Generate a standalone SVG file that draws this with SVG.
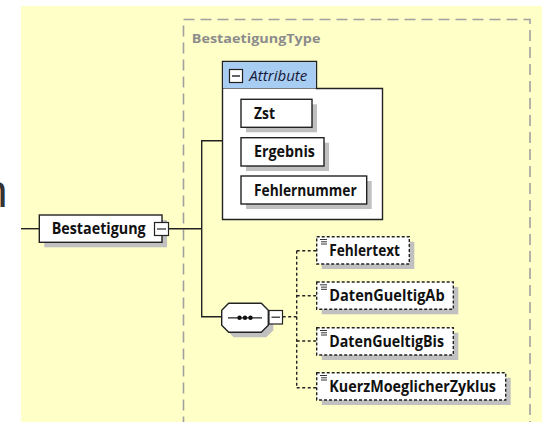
<svg xmlns="http://www.w3.org/2000/svg" width="542" height="422" viewBox="0 0 542 422">
  <style>
    .lbl { font-family: "Open Sans", "Liberation Sans", Arial, sans-serif; font-weight: bold; font-size: 15.5px; fill: #111; }
    .box { fill: #fff; stroke: #222; stroke-width: 1.4; }
    .dbox { fill: #fff; stroke: #222; stroke-width: 1.4; stroke-dasharray: 3,2; }
    .shadow { fill: #c0c0c0; }
    .line { fill: none; stroke: #222; stroke-width: 1.4; }
    .dline { fill: none; stroke: #222; stroke-width: 1.4; stroke-dasharray: 3,2.5; }
    .mbox { fill: #fff; stroke: #222; stroke-width: 1.2; }
    .icon { stroke: #333; stroke-width: 1; }
  </style>
  <rect x="0" y="0" width="542" height="422" fill="#ffffff"/>
  <rect x="21" y="6" width="521" height="416" fill="#ffffc8"/>
  <text x="-18" y="206.7" font-family="Liberation Sans, Arial, sans-serif" font-size="46" fill="#333">n</text>

  <g id="BestaetigungType">
    <rect x="183.5" y="19.5" width="346.5" height="410" fill="none" stroke="#a0a0a0" stroke-width="1.6" stroke-dasharray="11,6"/>
    <text x="191.8" y="43.2" font-family="Open Sans, Liberation Sans, Arial, sans-serif" font-weight="bold" font-size="13" fill="#8c8c8c" textLength="128.6" lengthAdjust="spacingAndGlyphs">BestaetigungType</text>
  </g>

  <g id="connectors">
    <line class="line" x1="21" y1="228.7" x2="39.3" y2="228.7"/>
    <line class="line" x1="169" y1="228.7" x2="201.7" y2="228.7"/>
    <polyline class="line" points="222.3,140.7 201.7,140.7 201.7,316.7 221.7,316.7"/>
    <line class="dline" x1="282.7" y1="316.7" x2="296.7" y2="316.7"/>
    <line class="dline" x1="296.7" y1="250.7" x2="296.7" y2="387.7"/>
    <line class="dline" x1="296.7" y1="250.7" x2="316.7" y2="250.7"/>
    <line class="dline" x1="296.7" y1="295.7" x2="316.7" y2="295.7"/>
    <line class="dline" x1="296.7" y1="341" x2="316.7" y2="341"/>
    <line class="dline" x1="296.7" y1="387.7" x2="316.7" y2="387.7"/>
  </g>

  <g id="Attribute">
    <path d="M222.5,61.5 H316.5 V88.5 H382.5 V219.5 H222.5 Z" fill="#fff" stroke="#222" stroke-width="1.4"/>
    <rect x="223.2" y="62.2" width="92.6" height="25.8" fill="#a8cdf2"/>
    <line x1="222.5" y1="88.5" x2="316.5" y2="88.5" stroke="#222" stroke-width="0.6"/>
    <rect class="mbox" x="229.5" y="69.5" width="13" height="13" fill="#fff"/>
    <line x1="232" y1="76" x2="240" y2="76" stroke="#222" stroke-width="1.4"/>
    <text x="249.3" y="80.7" font-family="Open Sans, Liberation Sans, Arial, sans-serif" font-style="italic" font-size="14.5" fill="#1a1a3a" textLength="58" lengthAdjust="spacingAndGlyphs">Attribute</text>
  </g>

  <g id="Zst">
    <rect class="shadow" x="246" y="104.3" width="71" height="28"/>
    <rect class="box" x="241" y="99.3" width="71" height="28"/>
    <text class="lbl" x="254" y="119" textLength="21" lengthAdjust="spacingAndGlyphs">Zst</text>
  </g>
  <g id="Ergebnis">
    <rect class="shadow" x="246" y="142.7" width="83" height="28.3"/>
    <rect class="box" x="241" y="137.7" width="83" height="28.3"/>
    <text class="lbl" x="254" y="157.3" textLength="61" lengthAdjust="spacingAndGlyphs">Ergebnis</text>
  </g>
  <g id="Fehlernummer">
    <rect class="shadow" x="246" y="181" width="125.7" height="28"/>
    <rect class="box" x="241" y="176" width="125.7" height="28"/>
    <text class="lbl" x="254" y="196" textLength="102.7" lengthAdjust="spacingAndGlyphs">Fehlernummer</text>
  </g>

  <g id="Bestaetigung">
    <rect class="shadow" x="44.3" y="220" width="122.7" height="27.3"/>
    <rect class="box" x="39.3" y="215" width="122.7" height="27.3"/>
    <text class="lbl" x="51.7" y="234.3" textLength="94" lengthAdjust="spacingAndGlyphs">Bestaetigung</text>
    <rect class="mbox" x="154.5" y="222.5" width="14" height="13"/>
    <line x1="157" y1="229" x2="166" y2="229" stroke="#222" stroke-width="1.2"/>
  </g>

  <g id="sequence">
    <path d="M233.7,308.3 H266.3 L273.3,315.3 V330.3 L266.3,337.3 H233.7 L226.7,330.3 V315.3 Z" class="shadow"/>
    <path d="M228.7,303.3 H261.3 L268.3,310.3 V325.3 L261.3,332.3 H228.7 L221.7,325.3 V310.3 Z" fill="#fff" stroke="#222" stroke-width="1.4"/>
    <line x1="228" y1="317.8" x2="262" y2="317.8" stroke="#222" stroke-width="1.2"/>
    <circle cx="239.5" cy="317.8" r="2.2" fill="#111"/>
    <circle cx="245" cy="317.8" r="2.2" fill="#111"/>
    <circle cx="250.5" cy="317.8" r="2.2" fill="#111"/>
    <rect class="mbox" x="269" y="310.5" width="13.5" height="13.5"/>
    <line x1="271.5" y1="317.2" x2="280" y2="317.2" stroke="#222" stroke-width="1.2"/>
  </g>

  <g id="Fehlertext">
    <rect class="shadow" x="321.7" y="241.7" width="92.6" height="27.3"/>
    <rect class="dbox" x="316.7" y="236.7" width="92.6" height="27.3"/>
    <path class="icon" d="M320,239.5 H327 M321,241.8 H327 M321,244 H327"/>
    <text class="lbl" x="329.3" y="256" textLength="70.7" lengthAdjust="spacingAndGlyphs">Fehlertext</text>
  </g>
  <g id="DatenGueltigAb">
    <rect class="shadow" x="321.7" y="287" width="136.6" height="27.3"/>
    <rect class="dbox" x="316.7" y="282" width="136.6" height="27.3"/>
    <path class="icon" d="M320,284.8 H327 M321,287.1 H327 M321,289.3 H327"/>
    <text class="lbl" x="329.3" y="301" textLength="115.3" lengthAdjust="spacingAndGlyphs">DatenGueltigAb</text>
  </g>
  <g id="DatenGueltigBis">
    <rect class="shadow" x="321.7" y="332.7" width="136.6" height="27.3"/>
    <rect class="dbox" x="316.7" y="327.7" width="136.6" height="27.3"/>
    <path class="icon" d="M320,330.5 H327 M321,332.8 H327 M321,335 H327"/>
    <text class="lbl" x="329.3" y="346.7" textLength="114.7" lengthAdjust="spacingAndGlyphs">DatenGueltigBis</text>
  </g>
  <g id="KuerzMoeglicherZyklus">
    <rect class="shadow" x="321.7" y="377.7" width="189" height="27.3"/>
    <rect class="dbox" x="316.7" y="372.7" width="189" height="27.3"/>
    <path class="icon" d="M320,375.5 H327 M321,377.8 H327 M321,380 H327"/>
    <text class="lbl" x="329.3" y="392" textLength="166.7" lengthAdjust="spacingAndGlyphs">KuerzMoeglicherZyklus</text>
  </g>
</svg>
